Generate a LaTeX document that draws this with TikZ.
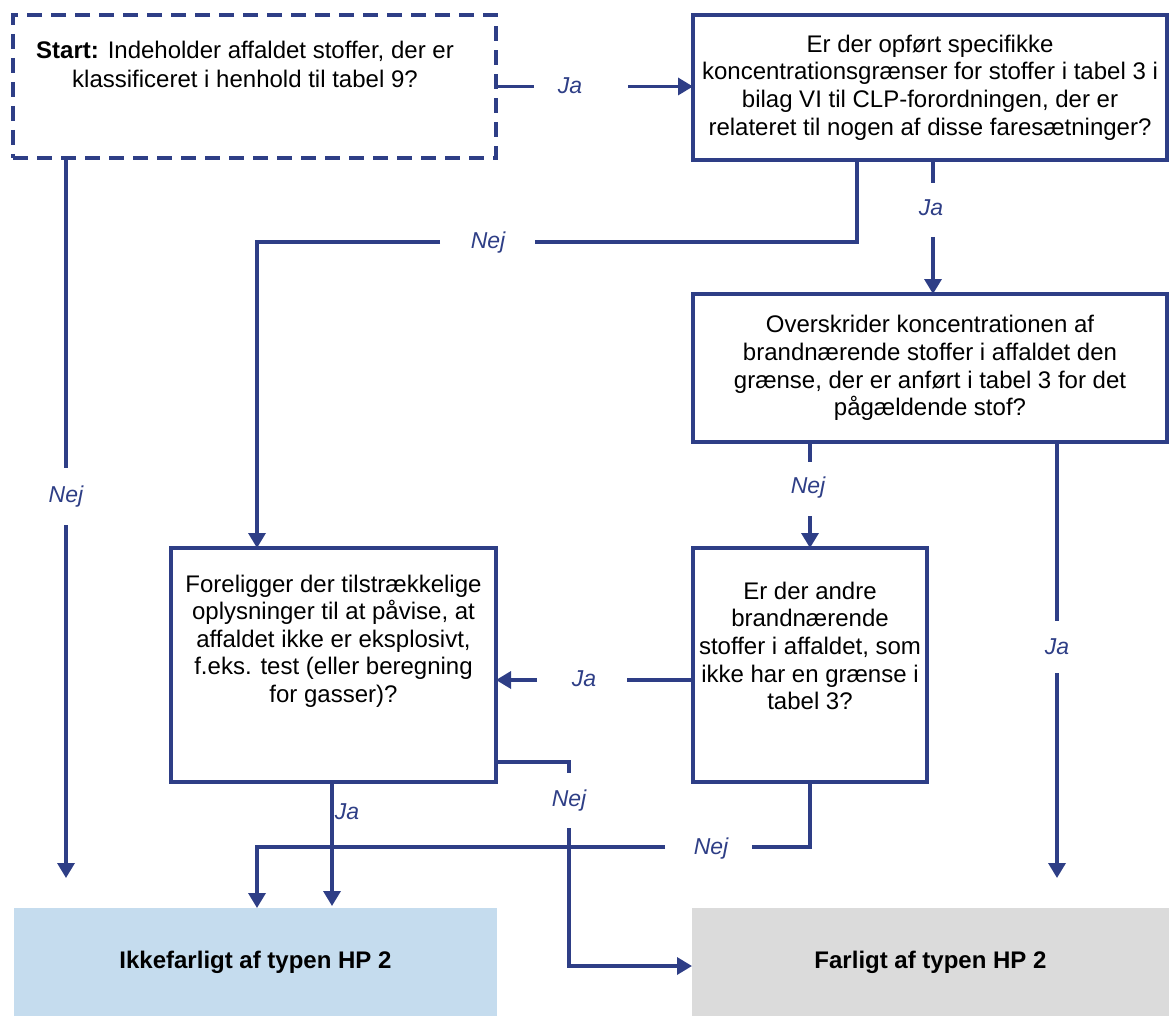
\documentclass[tikz,border=0pt]{standalone}
\usepackage{fontspec}
\setmainfont{Liberation Sans}
\usetikzlibrary{arrows.meta,calc}
\definecolor{flow}{RGB}{46,62,134}
\definecolor{safefill}{RGB}{197,220,238}
\definecolor{hazfill}{RGB}{219,219,219}

\begin{document}
\begin{tikzpicture}[x=1pt,y=-1pt,
  conn/.style={draw=flow, line width=3.4pt},
  arr/.style={conn, -{Triangle[width=17pt,length=15pt]}},
  qbox/.style={draw=flow, line width=3.4pt, rectangle, inner sep=0pt, outer sep=0pt},
  startbox/.style={qbox, dash pattern=on 15pt off 9pt},
  qtext/.style={align=center, font=\fontsize{24}{27.6}\selectfont, inner sep=0pt},
  lab/.style={font=\fontsize{23}{27}\selectfont\itshape, text=flow, inner sep=0pt},
  result/.style={rectangle, inner sep=0pt, outer sep=0pt, align=center, font=\fontsize{24}{28}\selectfont\bfseries},
]
\useasboundingbox (0,0) rectangle (1169,1016);

% result boxes
\node[result, fill=safefill, minimum width=483pt, minimum height=108pt] (ikke) at (255.5,962) {Ikkefarligt af typen HP 2};
\node[result, fill=hazfill, minimum width=477pt, minimum height=108pt] (farl) at (930.5,962) {Farligt af typen HP 2};

% question boxes
\node[startbox, minimum width=483pt, minimum height=143pt] (start) at (254.5,86.5) {};
\node[qtext] (starttxt) at (245,64) {\textbf{Start:} Indeholder affaldet stoffer, der er\\[1.5pt]klassificeret i henhold til tabel 9?};

\node[qbox, minimum width=474pt, minimum height=145pt, qtext] (b2) at (930,87.5)
  {Er der opført specifikke\\koncentrationsgrænser for stoffer i tabel 3 i\\bilag VI til CLP-forordningen, der er\\relateret til nogen af disse faresætninger?};

\node[qbox, minimum width=474pt, minimum height=148pt, qtext] (b3) at (930,368)
  {Overskrider koncentrationen af\\brandnærende stoffer i affaldet den\\grænse, der er anført i tabel 3 for det\\pågældende stof?};

\node[qbox, minimum width=325pt, minimum height=234pt] (b4) at (333.5,665) {};
\node[qtext] (b4txt) at (333.5,641)
  {Foreligger der tilstrækkelige\\oplysninger til at påvise, at\\affaldet ikke er eksplosivt,\\f.eks. test (eller beregning\\for gasser)?};

\node[qbox, minimum width=234pt, minimum height=234pt] (b5) at (810,665) {};
\node[qtext] (b5txt) at (810,646)
  {Er der andre\\brandnærende\\stoffer i affaldet, som\\ikke har en grænse i\\tabel 3?};

% branch labels
\node[lab] (ja1)  at (570,86)  {Ja};
\node[lab] (nej1) at (66,497)  {Nej};
\node[lab] (nej2) at (488,243) {Nej};
\node[lab] (ja2)  at (931,208) {Ja};
\node[lab] (nej3) at (808,488) {Nej};
\node[lab] (ja3)  at (1057,647) {Ja};
\node[lab] (ja4)  at (584,679) {Ja};
\node[lab] (nej4) at (569,801) {Nej};
\node[lab] (ja5)  at (347,812) {Ja};
\node[lab] (nej5) at (711,849) {Nej};

% start -> b2 (Ja)
\draw[conn] (start.east) -- ++(38,0);
\draw[arr] ($(b2.west |- start.east)+(-65,0)$) -- (b2.west |- start.east);

% start -> ikke (Nej)
\draw[conn] ([xshift=53pt]start.south west) -- ($(nej1)+(0,-29)$);
\draw[arr] ($(nej1)+(0,28)$) -- ($(ikke.north west)+(52,-30)$);

% b2 -> b4 (Nej)
\draw[conn] ($(b2.south west)+(164,0)$) -- ++(0,82) -- ($(nej2)+(47,-1)$);
\draw[arr] ($(nej2)+(-48,-1)$) -| ($(b4.north west)+(86,0)$);

% b2 -> b3 (Ja)
\draw[conn] ($(b2.south west)+(240,0)$) -- ++(0,23);
\draw[arr] ($(ja2)+(2,29)$) -- ($(b3.north west)+(240,0)$);

% b3 -> b5 (Nej)
\draw[conn] ($(b3.south west)+(117,0)$) -- ++(0,20);
\draw[arr] ($(nej3)+(2,28)$) -- (b5.north);

% b3 -> farl (Ja)
\draw[conn] ($(b3.south west)+(364,0)$) -- ($(ja3)+(0,-26)$);
\draw[arr] ($(ja3)+(0,26)$) -- ($(farl.north west)+(365,-30)$);

% b5 -> b4 (Ja)
\draw[conn] ($(b5.west)+(0,15)$) -- ($(ja4)+(43,1)$);
\draw[arr] ($(ja4)+(-47,1)$) -- ($(b4.east)+(0,15)$);

% b4 -> farl (Nej)
\draw[conn] ($(b4.south east)+(0,-20)$) -| ($(nej4)+(0,-28)$);
\draw[arr] ($(nej4)+(0,27)$) |- ($(farl.west)+(0,4)$);

% b4 -> ikke (Ja)
\draw[arr] ($(b4.south west)+(161,0)$) -- ($(ikke.north west)+(318,-2)$);

% b5 -> ikke (Nej)
\draw[conn] (b5.south) -- ++(0,65) -- ($(nej5)+(41,-2)$);
\draw[arr] ($(nej5)+(-46,-2)$) -| ($(ikke.north west)+(243,0)$);
\end{tikzpicture}
\end{document}
